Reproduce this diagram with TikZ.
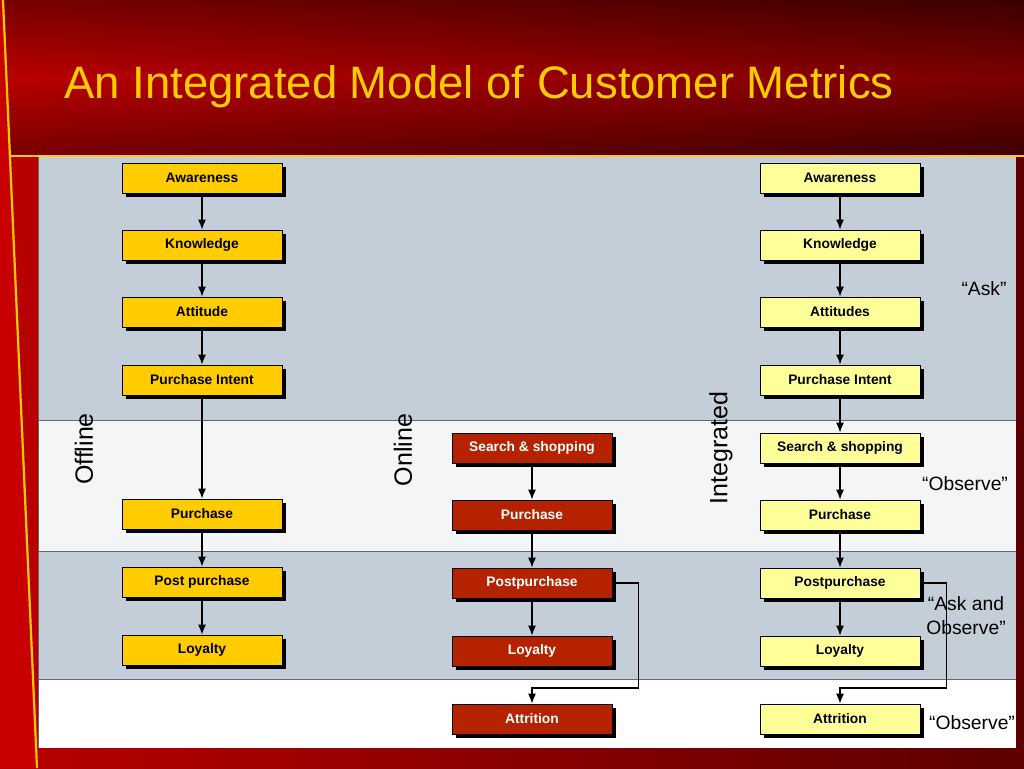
\documentclass[tikz,border=0pt]{standalone}
\usepackage{fontspec}
\setmainfont{Liberation Sans}
\usetikzlibrary{positioning,arrows.meta}
\tikzstyle{slide} = [x = 1pt, y = -1pt]
\definecolor{slideRed}{RGB}{185,0,0}
\definecolor{slideDark}{RGB}{92,0,0}
\definecolor{stripRed}{RGB}{200,0,0}
\definecolor{titleYellow}{RGB}{255,204,0}
\definecolor{bandBlue}{RGB}{196,206,216}
\definecolor{bandWhite}{RGB}{244,245,247}
\definecolor{offlineFill}{RGB}{255,204,0}
\definecolor{onlineFill}{RGB}{180,34,0}
\definecolor{integratedFill}{RGB}{255,255,153}
\tikzstyle{metricBase} = [draw=black, line width=0.7pt, minimum width=160pt, minimum height=30pt, inner sep=0pt, font=\fontsize{13.8}{15}\selectfont\bfseries]
\tikzstyle{offlineBox} = [metricBase, fill=offlineFill]
\tikzstyle{onlineBox} = [metricBase, fill=onlineFill, text=white]
\tikzstyle{integratedBox} = [metricBase, fill=integratedFill]
\tikzstyle{boxShadow} = [fill=black]
\tikzstyle{flowArrow} = [line width=1.3pt, -{Latex[length=10pt, width=8pt]}]
\tikzstyle{bandLine} = [color=black!60, line width=1pt]
\tikzstyle{accentLine} = [color=titleYellow, line width=2.2pt]
\tikzstyle{channelText} = [rotate=90, font=\fontsize{25}{27}\selectfont]
\tikzstyle{methodText} = [font=\fontsize{19.3}{24}\selectfont, align=center]
\tikzstyle{titleText} = [text=titleYellow, font=\fontsize{45.5}{50}\selectfont, inner sep=0pt]
\newcommand{\metricBox}[5]{
  \fill [boxShadow] (#2 - 76, #3 - 11) rectangle + (160, 30);
  \node [#4] (#1) at (#2, #3) {#5};
}
\newcommand{\feedbackArrow}[3]{\draw [flowArrow] (#1.east) -- ++(26,0) |- (#3) -- (#2);}

\begin{document}
\begin{tikzpicture}[slide]
  \useasboundingbox (0,0) rectangle (1024,768);
  % slide background
  \shade [left color=slideRed, right color=slideDark] (0,0) rectangle (1024,768);
  \shade [top color=black, bottom color=black, middle color=slideRed, opacity=0.35] (0,0) rectangle (1024,156);
  \fill [stripRed] (0,0) -- (3,0) -- (37,768) -- (0,768) -- cycle;
  \draw [accentLine] (3,0) -- (37,768);
  \draw [accentLine] (10,156) -- (1024,156);
  \node [titleText, anchor=base west] (title) at (64,98) {An Integrated Model of Customer Metrics};

  % bands
  \fill [bandBlue] (38,157) rectangle (1016,420);
  \fill [bandWhite] (38,420) rectangle (1016,551);
  \fill [bandBlue] (38,551) rectangle (1016,679);
  \fill [white] (38,679) rectangle (1016,748);
  \foreach \y in {420,551,679}
    \draw [bandLine] (38,\y) -- (1016,\y);
  \draw [bandLine] (38,157) -- (38,748);

  % offline
  \metricBox{offAware}{202}{178}{offlineBox}{Awareness}
  \metricBox{offKnow}{202}{245}{offlineBox}{Knowledge}
  \metricBox{offAtt}{202}{312}{offlineBox}{Attitude}
  \metricBox{offIntent}{202}{380}{offlineBox}{Purchase Intent}
  \metricBox{offPurch}{202}{514}{offlineBox}{Purchase}
  \metricBox{offPost}{202}{582}{offlineBox}{Post purchase}
  \metricBox{offLoyal}{202}{650}{offlineBox}{Loyalty}

  % online
  \metricBox{onSearch}{532}{448}{onlineBox}{Search \& shopping}
  \metricBox{onPurch}{532}{515}{onlineBox}{Purchase}
  \metricBox{onPost}{532}{583}{onlineBox}{Postpurchase}
  \metricBox{onLoyal}{532}{651}{onlineBox}{Loyalty}
  \metricBox{onAttr}{532}{719}{onlineBox}{Attrition}

  % integrated
  \metricBox{intAware}{840}{178}{integratedBox}{Awareness}
  \metricBox{intKnow}{840}{245}{integratedBox}{Knowledge}
  \metricBox{intAtt}{840}{312}{integratedBox}{Attitudes}
  \metricBox{intIntent}{840}{380}{integratedBox}{Purchase Intent}
  \metricBox{intSearch}{840}{448}{integratedBox}{Search \& shopping}
  \metricBox{intPurch}{840}{515}{integratedBox}{Purchase}
  \metricBox{intPost}{840}{583}{integratedBox}{Postpurchase}
  \metricBox{intLoyal}{840}{651}{integratedBox}{Loyalty}
  \metricBox{intAttr}{840}{719}{integratedBox}{Attrition}

  \foreach \from/\to in {offAware/offKnow, offKnow/offAtt, offAtt/offIntent, offIntent/offPurch, offPurch/offPost, offPost/offLoyal,
    onSearch/onPurch, onPurch/onPost, onPost/onLoyal,
    intAware/intKnow, intKnow/intAtt, intAtt/intIntent, intIntent/intSearch, intSearch/intPurch, intPurch/intPost, intPost/intLoyal}
    \draw [flowArrow] (\from) -- (\to);

  \coordinate (onTurn) at (532,688);
  \coordinate (intTurn) at (840,688);
  \feedbackArrow{onPost}{onAttr}{onTurn}
  \feedbackArrow{intPost}{intAttr}{intTurn}

  % labels
  \node [channelText] (offlineLabel) at (84,449) {Offline};
  \node [channelText] (onlineLabel) at (403,450) {Online};
  \node [channelText] (integratedLabel) at (721,448) {Integrated};
  \node [methodText] (askLabel) at (984,289) {“Ask”};
  \node [methodText] (observeLabel) at (965,484) {“Observe”};
  \node [methodText] (askObserveLabel) at (966,616) {“Ask and\\Observe”};
  \node [methodText] (observeLabelB) at (972,723) {“Observe”};
\end{tikzpicture}
\end{document}
